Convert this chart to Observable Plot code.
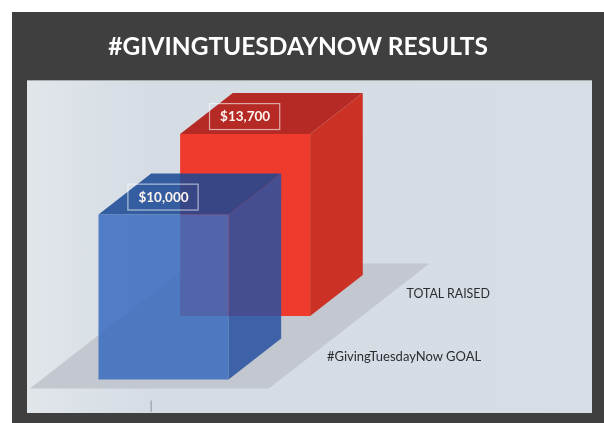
<!DOCTYPE html>
<html>
<head>
<meta charset="utf-8">
<style>
html,body{margin:0;padding:0;background:#fff;width:604px;height:423px;overflow:hidden}
#frame{position:absolute;left:12px;top:12px;width:592px;height:411px;background:#3f3f3f}
#panel{position:absolute;left:15px;top:68px;width:565px;height:333px;background:linear-gradient(90deg,#e0e6ea 0,#d5dce4 22%,#d6dde5 100%);border-top:1px solid #a9abad;box-sizing:border-box}
#chart{position:absolute;left:0;top:0}
#chart svg{display:block;background:transparent;filter:blur(.7px)}
</style>
<script src="https://cdn.jsdelivr.net/npm/d3@7"></script>
<script src="https://cdn.jsdelivr.net/npm/@observablehq/plot@0.6"></script>
</head>
<body>
<div id="frame"><div id="panel"></div></div>
<div id="chart"></div>
<script>
const titleText = "#GIVINGTUESDAYNOW RESULTS";
const categories = ["#GivingTuesdayNow GOAL", "TOTAL RAISED"];
const values = [10000, 13700];
const valueLabels = ["$10,000", "$13,700"];
// Perspective: how far back each bar stands and how much it shrinks there.
const rowDepth = [0, 1.55];
const rowShrink = [1, 0.805];

const depthX = 0.405, depthV = 2485;   // one unit of depth, in x units and value units
const P = (u, v, d) => ({x: u + d * depthX, y: v + d * depthV});
const poly = (pts, fill, extra = {}) =>
  Plot.line(pts, {x: "x", y: "y", fill, stroke: "none", curve: "linear-closed", ...extra});

function bar(i, c) {
  const d = rowDepth[i], h = values[i] * rowShrink[i], o = {fillOpacity: c.opacity};
  return [
    poly([P(0,h,d),P(1,h,d),P(1,h,d+1),P(0,h,d+1)], c.top, o),
    poly([P(1,0,d),P(1,0,d+1),P(1,h,d+1),P(1,h,d)], c.side, o),
    poly([P(0,0,d),P(1,0,d),P(1,h,d),P(0,h,d)], c.front, o)
  ];
}
const floor = [P(-0.527,-545,0), P(1.31,-545,0), P(1.31,-545,3.05), P(-0.527,-545,3.05)];

function labelRow(i) {
  const d = rowDepth[i], h = values[i] * rowShrink[i];
  const hw = 0.27, lo = 240, hi = 1810;
  const a = P(0.5 - hw, h + lo, d), b = P(0.5 + hw, h + hi, d);
  return {x1: a.x, x2: b.x, y1: a.y, y2: b.y, cx: (a.x+b.x)/2, cy: (a.y+b.y)/2, text: valueLabels[i]};
}
const boxes = [labelRow(1), labelRow(0)];

const chart = Plot.plot({
  width: 604, height: 423, margin: 0,
  x: {domain: [-0.7538, 3.892], axis: null},
  y: {domain: [-2667, 22970], axis: null},
  style: {background: "transparent"},
  marks: [
    poly(floor, "#c3c7cf"),
    Plot.ruleX([0.405], {y1: -2000, y2: -1300, stroke: "#8f949c", strokeWidth: 1}),
    ...bar(1, {top: "#b62a25", side: "#cb3225", front: "#ef3b2e", opacity: 1}),
    ...bar(0, {top: "#1a4895", side: "#2851a2", front: "#396cbf", opacity: 0.86}),
    Plot.rect(boxes, {x1: "x1", x2: "x2", y1: "y1", y2: "y2", fill: "none", stroke: "#ffffff", strokeOpacity: 0.6, strokeWidth: 1.2}),
    Plot.text(boxes, {x: "cx", y: "cy", text: "text", fill: "#fdf4f0", fontFamily: "Lato", fontWeight: 700, fontSize: 13.5}),
    Plot.text([titleText], {x: () => 1.535, y: () => 20124, fill: "#fff", fontFamily: "Lato", fontSize: 24.5, fontWeight: 700, text: d => d}),
    Plot.text([categories[1]], {x: () => 2.69, y: () => 5180, fill: "#2c2d33", fontFamily: "Lato", fontSize: 12.4, text: d => d}),
    Plot.text([categories[0]], {x: () => 2.35, y: () => 1400, fill: "#2c2d33", fontFamily: "Lato", fontSize: 13, text: d => d})
  ]
});
document.getElementById("chart").appendChild(chart);
</script>
</body>
</html>
